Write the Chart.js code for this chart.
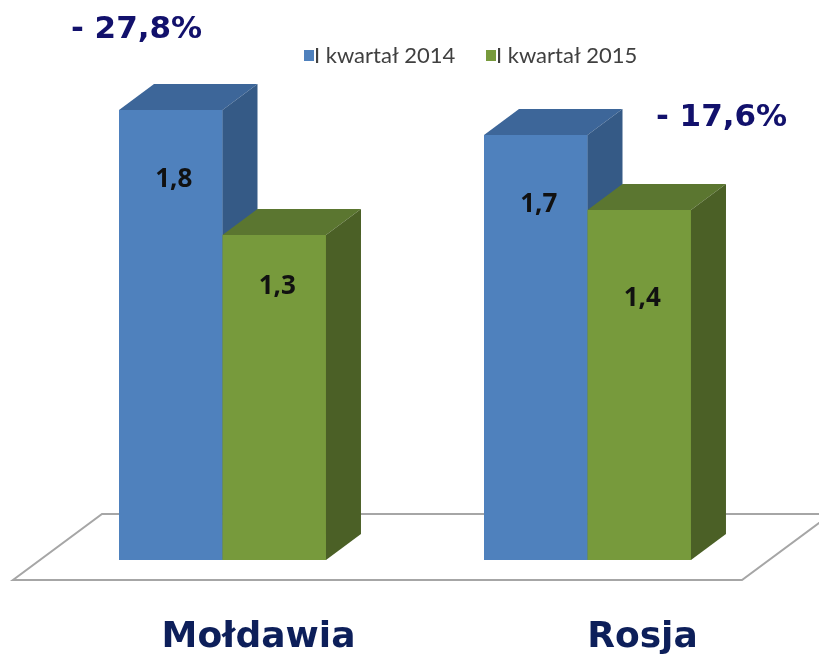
<!DOCTYPE html>
<html>
<head>
<meta charset="utf-8">
<script src="https://cdn.jsdelivr.net/npm/chart.js@4/dist/chart.umd.min.js"></script>
<style>
  html, body { margin: 0; padding: 0; background: #fff; }
  #wrap { width: 819px; height: 657px; position: relative; }
</style>
</head>
<body>
<div id="wrap"><canvas id="chart"></canvas></div>
<script>
// ── Data ──────────────────────────────────────────────────────────────────
const categories  = ['Mołdawia', 'Rosja'];
const seriesNames = ['I kwartał 2014', 'I kwartał 2015'];
const q1_2014     = [1.8, 1.7];
const q1_2015     = [1.3, 1.4];
const changes     = ['- 27,8%', '- 17,6%'];

// ── Styles ────────────────────────────────────────────────────────────────
const FRONT = ['#4f81bd', '#779a3c'];
const TOP   = ['#3d6699', '#5b7630'];
const SIDE  = ['#355a86', '#4b6026'];
const DEPTH = { dx: 35, dy: -26 };
const NAVY  = '#12116c';
const LABEL_NUDGE = [[70, 52], [70, 89]];      // value label y offset from bar top, per category/series
const CHANGE_POS  = [{ dx: -86, y: 30 }, { dx: 134, y: 118 }];
const CAT_NUDGE   = [36, 55];

const fmt = v => v.toFixed(1).replace('.', ',');

const bars3d = {
  id: 'bars3d',
  beforeDatasetsDraw(chart) {
    const { ctx, chartArea: a, scales: { y } } = chart;
    const base = y.getPixelForValue(0);
    const fy = base + 20, by = base - 46, k = 89;
    ctx.save();
    ctx.beginPath();
    ctx.moveTo(a.left - 27, fy);
    ctx.lineTo(a.right - 28, fy);
    ctx.lineTo(a.right - 28 + k, by);
    ctx.lineTo(a.left - 27 + k, by);
    ctx.closePath();
    ctx.fillStyle = '#fff';
    ctx.fill();
    ctx.strokeStyle = '#a6a6a6';
    ctx.lineWidth = 2;
    ctx.stroke();
    ctx.restore();
  },
  afterDatasetsDraw(chart) {
    const { ctx } = chart;
    const { dx, dy } = DEPTH;
    ctx.save();
    categories.forEach((c, ci) => {
      chart.data.datasets.forEach((ds, di) => {
        const bar = chart.getDatasetMeta(di).data[ci];
        const l = bar.x - bar.width / 2, r = bar.x + bar.width / 2;
        const t = bar.y, b = bar.base;
        ctx.fillStyle = FRONT[di];
        ctx.fillRect(l, t, r - l, b - t);
        ctx.fillStyle = TOP[di];
        ctx.beginPath();
        ctx.moveTo(l, t); ctx.lineTo(l + dx, t + dy); ctx.lineTo(r + dx, t + dy); ctx.lineTo(r, t);
        ctx.closePath(); ctx.fill();
        ctx.fillStyle = SIDE[di];
        ctx.beginPath();
        ctx.moveTo(r, t); ctx.lineTo(r + dx, t + dy); ctx.lineTo(r + dx, b + dy); ctx.lineTo(r, b);
        ctx.closePath(); ctx.fill();
        // value label
        ctx.fillStyle = '#111';
        ctx.font = 'bold 26px "Open Sans", "Noto Sans", sans-serif';
        ctx.textAlign = 'center';
        ctx.textBaseline = 'middle';
        ctx.fillText(fmt(ds.data[ci]), bar.x + 3, t + LABEL_NUDGE[ci][di]);
      });
    });

    // category labels and change labels
    const x = chart.scales.x;
    ctx.textAlign = 'center';
    ctx.textBaseline = 'middle';
    categories.forEach((c, ci) => {
      const cx = x.getPixelForValue(ci);
      ctx.fillStyle = '#0d1f5a';
      ctx.font = 'bold 36px "DejaVu Sans", sans-serif';
      ctx.fillText(c, cx + CAT_NUDGE[ci], 638);
      ctx.fillStyle = NAVY;
      ctx.font = 'bold 31px "DejaVu Sans", sans-serif';
      ctx.fillText(changes[ci], cx + CHANGE_POS[ci].dx, CHANGE_POS[ci].y);
    });

    // legend
    ctx.font = '22px Lato, "Open Sans", sans-serif';
    ctx.textAlign = 'left';
    let lx = 304;
    seriesNames.forEach((n, i) => {
      ctx.fillStyle = FRONT[i];
      ctx.fillRect(lx, 50, 10, 11);
      ctx.fillStyle = '#404040';
      ctx.fillText(n, lx + 10, 56);
      lx = 486;
    });
    ctx.restore();
  }
};

new Chart(document.getElementById('chart'), {
  type: 'bar',
  data: {
    labels: categories,
    datasets: [
      { label: seriesNames[0], data: q1_2014, backgroundColor: FRONT[0] },
      { label: seriesNames[1], data: q1_2015, backgroundColor: FRONT[1] }
    ]
  },
  options: {
    responsive: true, maintainAspectRatio: false, animation: false,
    layout: { padding: { left: 40, right: 49, top: 60, bottom: 97 } },
    datasets: { bar: { barPercentage: 1, categoryPercentage: 0.567 } },
    plugins: { legend: { display: false }, tooltip: { enabled: false } },
    scales: {
      x: { display: false },
      y: { display: false, min: 0, max: 2 }
    }
  },
  plugins: [bars3d]
});
</script>
</body>
</html>
